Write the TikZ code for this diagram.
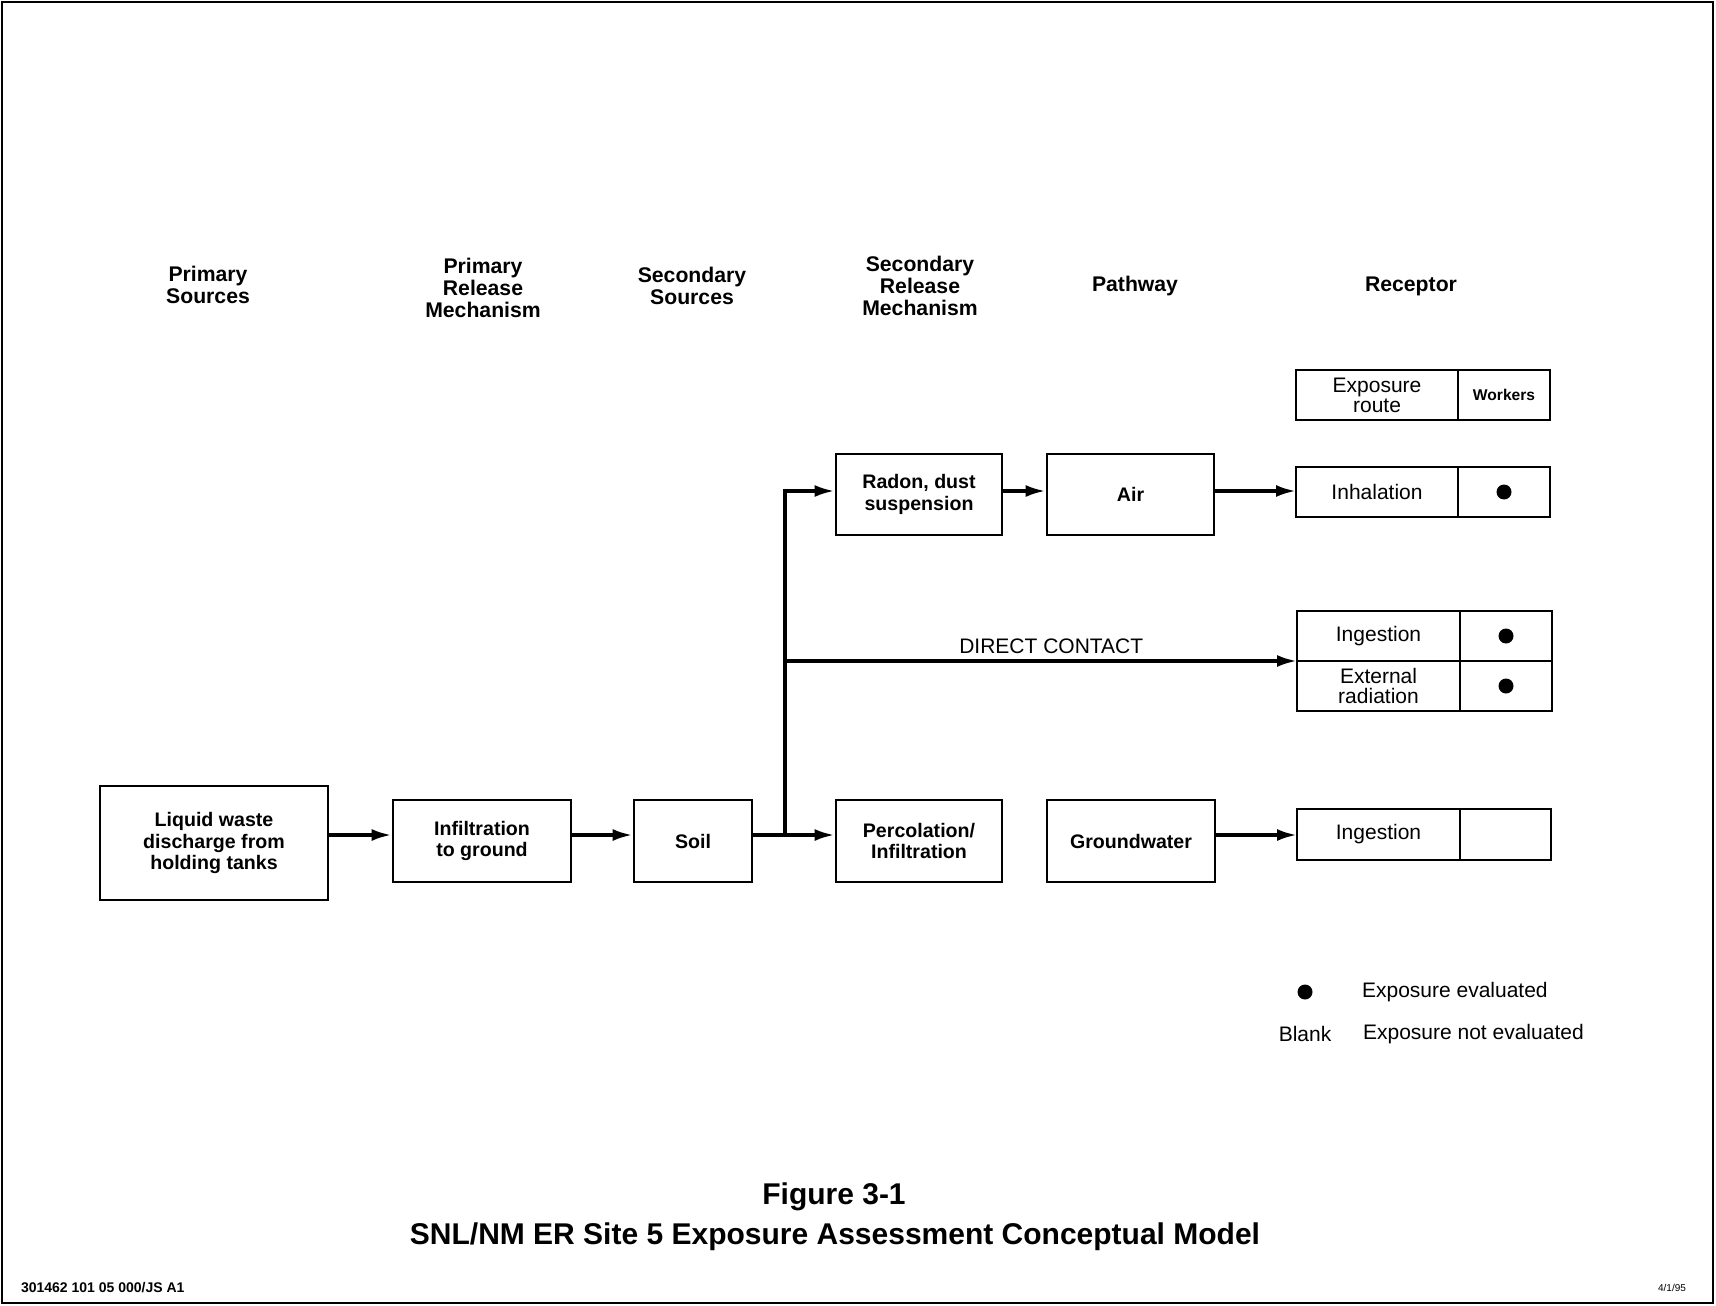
\documentclass[tikz,border=0pt]{standalone}
\usepackage{fontspec}
\setmainfont{Liberation Sans}
\usetikzlibrary{arrows.meta}
\begin{document}
\begin{tikzpicture}[x=0.5pt,y=-0.5pt,
  box/.style={draw, line width=1.4pt, inner sep=0pt, align=center, font=\fontsize{9.8}{10.7}\selectfont\bfseries},
  cell/.style={draw, line width=1.2pt, inner sep=0pt, outer sep=0pt, align=center, font=\fontsize{10.5}{10}\selectfont},
  hdr/.style={align=center, font=\fontsize{10.6}{11}\selectfont\bfseries},
  flow/.style={line width=1.7pt, line join=miter, -{Latex[length=10pt,width=6pt]}},
  wire/.style={line width=1.7pt},
  dot/.style={circle, fill=black, inner sep=0pt, minimum size=7.5pt},
  lbl/.style={font=\fontsize{10.5}{12}\selectfont}
]
\useasboundingbox (0,0) rectangle (1716,1305);
\draw[line width=1.2pt] (2,2) rectangle (1713,1303);

% column headers
\node[hdr] (h1) at (208,284.5) {Primary\\Sources};
\node[hdr] (h2) at (483,288) {Primary\\Release\\Mechanism};
\node[hdr] (h3) at (692,286) {Secondary\\Sources};
\node[hdr] (h4) at (920,286) {Secondary\\Release\\Mechanism};
\node[hdr] (h5) at (1135,286) {Pathway};
\node[hdr] (h6) at (1411,286) {Receptor};

% flow boxes
\node[box, minimum width=114pt, minimum height=57pt] (lw) at (214,843) {Liquid waste\\discharge from\\holding tanks};
\node[box, minimum width=89pt, minimum height=41pt] (inf) at (482,841) {Infiltration\\to ground};
\node[box, minimum width=59pt, minimum height=41pt] (soil) at (693,841) {Soil};
\node[box, minimum width=83pt, minimum height=40.5pt] (radon) at (919,494.5) {Radon, dust\\suspension};
\node[box, minimum width=83.5pt, minimum height=40.5pt] (air) at (1130.5,494.5) {Air};
\node[box, minimum width=83pt, minimum height=41pt] (perc) at (919,841) {Percolation/\\Infiltration};
\node[box, minimum width=84pt, minimum height=41pt] (gw) at (1131,841) {Groundwater};

% receptor table
\node[cell, minimum width=81pt, minimum height=25pt] (rh) at (1377,395) {Exposure\\route};
\node[cell, minimum width=46pt, minimum height=25pt, anchor=west, font=\fontsize{7.8}{9}\selectfont\bfseries] (wk) at (rh.east) {Workers};
\node[cell, minimum width=81pt, minimum height=25pt] (inh) at (1377,492) {Inhalation};
\node[cell, minimum width=46pt, minimum height=25pt, anchor=west] (inhd) at (inh.east) {};
\node[cell, minimum width=81.5pt, minimum height=25pt] (ing1) at (1378.5,636) {Ingestion};
\node[cell, minimum width=46pt, minimum height=25pt, anchor=west] (ing1d) at (ing1.east) {};
\node[cell, minimum width=81.5pt, minimum height=25pt, font=\fontsize{10.5}{9.8}\selectfont] (ext) at (1378.5,686) {External\\radiation};
\node[cell, minimum width=46pt, minimum height=25pt, anchor=west] (extd) at (ext.east) {};
\node[cell, minimum width=81.5pt, minimum height=25.5pt] (ing2) at (1378.5,834.5) {Ingestion};
\node[cell, minimum width=45.5pt, minimum height=25.5pt, anchor=west] (ing2d) at (ing2.east) {};

\node[dot] (d1) at (inhd.center) {};
\node[dot] (d2) at (ing1d.center) {};
\node[dot] (d3) at (extd.center) {};

% connectors
\coordinate (row2) at (0,835);
\coordinate (row1) at (0,491);
\coordinate (j) at (785,835);
\coordinate (jt) at (785,491);
\coordinate (jm) at (785,661);
\draw[flow] (lw.east |- row2) -- (inf.west |- row2);
\draw[flow] (inf.east |- row2) -- (soil.west |- row2);
\draw[wire] (soil.east |- row2) -- (j);
\draw[flow] (j) -- (perc.west |- row2);
\draw[flow] (j) -- (jt) -- (radon.west |- row1);
\draw[flow] (radon.east |- row1) -- (air.west |- row1);
\draw[flow] (air.east |- row1) -- (inh.west |- row1);
\draw[flow] (jm) -- (jm -| ing1.west) node[lbl, pos=0.52, above, inner sep=3pt] (dc) {DIRECT CONTACT};
\draw[flow] (gw.east |- row2) -- (ing2.west |- row2);

% legend
\node[dot] (ld) at (1305,992) {};
\node[lbl, anchor=west] (l1) at (1355,992) {Exposure evaluated};
\node[lbl] (l2) at (1305,1034) {Blank};
\node[lbl, anchor=west] (l3) at (1356,1034) {Exposure not evaluated};

% title
\node[font=\fontsize{15}{18}\selectfont\bfseries] (t1) at (834,1197) {Figure 3-1};
\node[font=\fontsize{15}{18}\selectfont\bfseries] (t2) at (835,1237) {SNL/NM ER Site 5 Exposure Assessment Conceptual Model};

% footer
\node[anchor=west, font=\fontsize{7}{8}\selectfont\bfseries] (f1) at (14,1288) {301462 101 05 000/JS A1};
\node[font=\fontsize{5}{6}\selectfont] (f2) at (1672,1288) {4/1/95};
\end{tikzpicture}
\end{document}
